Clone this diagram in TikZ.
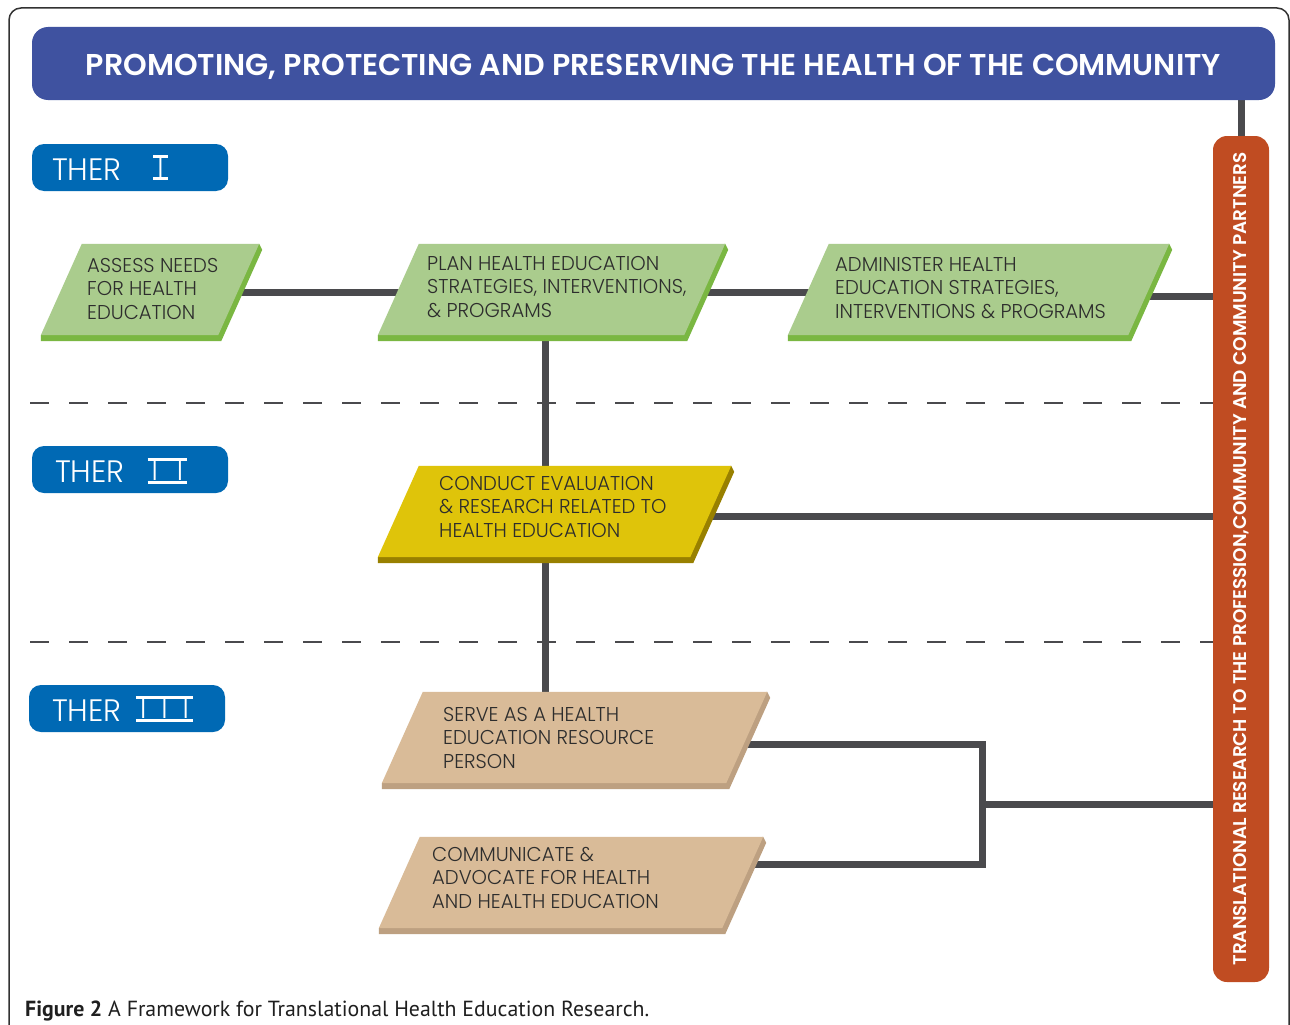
\documentclass[tikz,border=0pt]{standalone}
\usepackage{fontspec}
\usepackage{graphicx}
\setmainfont{Poppins}
\IfFontExistsTF{Poppins Light}%
  {\newfontfamily\boxfont[FakeStretch=0.98]{Poppins Light}}%
  {\newfontfamily\boxfont[FakeStretch=0.98]{Poppins}}
\IfFontExistsTF{Poppins SemiBold}%
  {\newfontfamily\titlefont{Poppins SemiBold}\newcommand\titleweight{}}%
  {\newfontfamily\titlefont{Poppins}\newcommand\titleweight{\bfseries}}
\newfontfamily\capfont{PT Sans}
\usetikzlibrary{backgrounds}
\definecolor{bannerblue}{RGB}{63,82,160}
\definecolor{therblue}{RGB}{0,105,180}
\definecolor{barorange}{RGB}{192,76,34}
\definecolor{conngray}{RGB}{74,74,77}
\definecolor{greenface}{RGB}{170,204,141}
\definecolor{greenedge}{RGB}{122,183,66}
\definecolor{yellowface}{RGB}{223,196,10}
\definecolor{yellowedge}{RGB}{152,128,0}
\definecolor{tanface}{RGB}{217,187,152}
\definecolor{tanedge}{RGB}{189,160,129}
\definecolor{txtgray}{RGB}{45,45,45}
\definecolor{framegray}{RGB}{50,50,50}

% #1 name, #2 top-left x, #3 top-left y, #4 top width, #5 face colour, #6 edge colour
\newcommand\slab[6]{%
  \node[inner sep=0pt, minimum width={#4+41}, minimum height=91] (#1) at ({#2-20.5+#4/2},{#3+45.5}) {};
  \fill[#6] (#1.south west) -- ([yshift=-6pt]#1.south west)
     -- ([xshift=-38pt,yshift=-6pt]#1.south east)
     -- ([xshift=3pt,yshift=-6pt]#1.north east) -- (#1.north east) -- cycle;
  \fill[#5] ([xshift=41pt]#1.north west) -- (#1.north east)
     -- ([xshift=-41pt]#1.south east) -- (#1.south west) -- cycle;
}
% roman numeral: #1 node name, bars above and below
\newcommand\numbars[1]{%
  \draw[white, line width=3pt] ([xshift=-4pt,yshift=1.5pt]#1.north west) -- ([xshift=4pt,yshift=1.5pt]#1.north east);
  \draw[white, line width=3pt] ([xshift=-4pt,yshift=-1.5pt]#1.south west) -- ([xshift=4pt,yshift=-1.5pt]#1.south east);
}

\tikzset{
  conn/.style={draw=conngray, line width=7pt, line join=miter},
  sep/.style={draw=conngray, line width=1.6pt, dash pattern=on 19pt off 20pt},
  boxtxt/.style={inner sep=0pt, anchor=north west, align=left, text=txtgray,
     font=\boxfont\fontsize{20}{23.5}\selectfont},
  therbox/.style={fill=therblue, rounded corners=12pt, minimum width=196, minimum height=47, inner sep=0pt},
  thertxt/.style={inner sep=0pt, anchor=base west, text=white, font=\boxfont\fontsize{31}{36}\selectfont},
  thernum/.style={inner sep=0pt, anchor=center, text=white, font=\boxfont\fontsize{28}{30}\selectfont},
}

\begin{document}
\begin{tikzpicture}[x=1pt, y=-1pt]
\useasboundingbox (0,0) rectangle (1290,1025);

% outer frame
\draw[framegray, line width=1.5pt, rounded corners=12pt] (9,1060) -- (9,8) -- (1289,8) -- (1289,1060);

% banner
\node[fill=bannerblue, rounded corners=16pt, minimum width=1243, minimum height=73, inner sep=0pt,
      text=white, font=\titlefont\titleweight\fontsize{30}{36}\selectfont] (banner) at (653.5,63.5)
      {\raisebox{-12pt}[0pt][0pt]{\resizebox{1135pt}{!}{PROMOTING, PROTECTING AND PRESERVING THE HEALTH OF THE COMMUNITY}}};

% vertical bar
\node[fill=barorange, rounded corners=14pt, rotate=90, minimum width=846, minimum height=56, inner sep=0pt,
      text=white, font=\titlefont\titleweight\fontsize{17}{20}\selectfont] (bar) at (1241,559)
      {\resizebox{813pt}{!}{TRANSLATIONAL RESEARCH TO THE PROFESSION,COMMUNITY AND COMMUNITY PARTNERS}};

% tier labels
\node[therbox] (ther1) at (130,167.5) {};
\node[thertxt] (ther1t) at (52,180) {THER};
\node[thernum] (ther1n) at (160.5,167.5) {I};
\numbars{ther1n}
\node[therbox] (ther2) at (130,469.5) {};
\node[thertxt] (ther2t) at (55,482) {THER};
\node[thernum] (ther2n) at (167.5,471) {I\hspace{19pt}I};
\numbars{ther2n}
\node[therbox] (ther3) at (127,708.5) {};
\node[thertxt] (ther3t) at (52,721) {THER};
\node[thernum] (ther3n) at (164.5,709) {I\hspace{15pt}I\hspace{15pt}I};
\numbars{ther3n}

% slabs
\slab{assess}{82}{244}{177}{greenface}{greenedge}
\slab{plan}{419}{244}{306}{greenface}{greenedge}
\slab{admin}{829}{244}{340}{greenface}{greenedge}
\slab{conduct}{419}{466}{312}{yellowface}{yellowedge}
\slab{serve}{423}{692}{344}{tanface}{tanedge}
\slab{comm}{420}{837}{343}{tanface}{tanedge}

\node[boxtxt] (assesst) at (87,258) {ASSESS NEEDS\\FOR HEALTH\\EDUCATION};
\node[boxtxt] (plant) at (427,256) {PLAN HEALTH EDUCATION\\STRATEGIES, INTERVENTIONS,\\\& PROGRAMS};
\node[boxtxt] (admint) at (835,257) {ADMINISTER HEALTH\\EDUCATION STRATEGIES,\\INTERVENTIONS \& PROGRAMS};
\node[boxtxt] (conductt) at (439,476) {CONDUCT EVALUATION\\\& RESEARCH RELATED TO\\HEALTH EDUCATION};
\node[boxtxt] (servet) at (443,707) {SERVE AS A HEALTH\\EDUCATION RESOURCE\\PERSON};
\node[boxtxt] (commt) at (432,847) {COMMUNICATE \&\\ADVOCATE FOR HEALTH\\AND HEALTH EDUCATION};

% caption
\node[inner sep=0pt, anchor=base west, text=black!88, font=\capfont\fontsize{19}{22}\selectfont] (caption) at (25,1016)
   {\resizebox{624pt}{!}{\textbf{Figure 2} A Framework for Translational Health Education Research.}};

\coordinate (join) at (982,804);

\begin{pgfonlayer}{background}
\fill[white] (0,0) rectangle (1290,1025);
\draw[sep] (30,403) -- (bar.center |- 0,403);
\draw[sep] (30,642) -- (bar.center |- 0,642);
\draw[conn] (assess.center |- 0,292) -- (plan.center |- 0,292);
\draw[conn] (plan.center |- 0,292) -- (admin.center |- 0,292);
\draw[conn] (admin.center |- 0,296) -- (bar.center |- 0,296);
\draw[conn] (plan.center -| 545,0) -- (serve.center -| 545,0);
\draw[conn] (conduct.center |- 0,516) -- (bar.center |- 0,516);
\draw[conn] (serve.center |- 0,744) -| (join) |- (comm.center |- 0,864);
\draw[conn] (join) -- (bar.center |- join);
\draw[conn] (banner.center -| bar.center) -- (bar.center);
\end{pgfonlayer}
\end{tikzpicture}
\end{document}
